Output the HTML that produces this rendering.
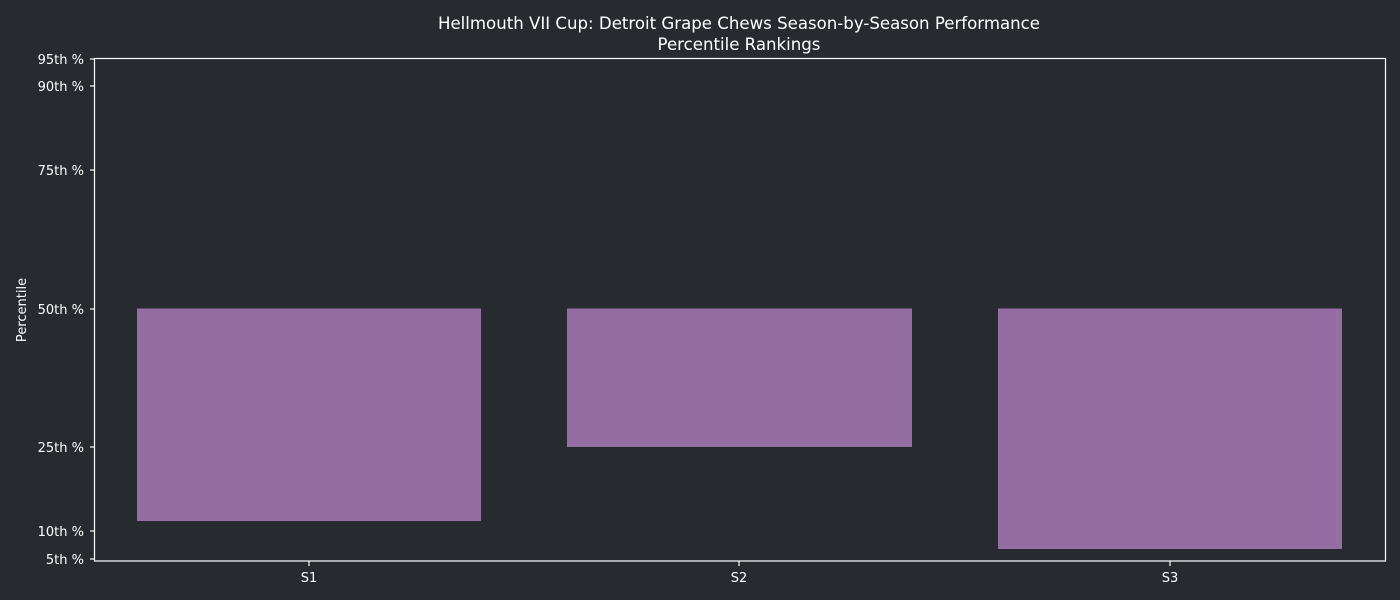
<!DOCTYPE html>
<html><head><style>
html,body{margin:0;padding:0;background:#272b30;}
svg{display:block;font-family:"DejaVu Sans","Liberation Sans",sans-serif;}
</style></head><body>
<svg width="1400" height="600" viewBox="0 0 1400 600">
<rect width="1400" height="600" fill="#272b30"/>
<text x="739" y="29" fill="#fff" font-size="16.6" text-anchor="middle">Hellmouth VII Cup: Detroit Grape Chews Season-by-Season Performance</text>
<text x="739" y="50" fill="#fff" font-size="16.6" text-anchor="middle">Percentile Rankings</text>
<rect x="137" y="308.5" width="344" height="212.5" fill="#946ea3"/>
<rect x="567" y="308.5" width="345" height="138.5" fill="#946ea3"/>
<rect x="998" y="308.5" width="344" height="240.5" fill="#946ea3"/>
<rect x="94.5" y="58.5" width="1291" height="502.5" fill="none" stroke="#fff" stroke-width="1.2"/>
<g stroke="#fff" stroke-width="1.2">
<line x1="90" x2="94" y1="59" y2="59"/><line x1="90" x2="94" y1="86" y2="86"/>
<line x1="90" x2="94" y1="170" y2="170"/><line x1="90" x2="94" y1="309" y2="309"/>
<line x1="90" x2="94" y1="447" y2="447"/><line x1="90" x2="94" y1="531" y2="531"/>
<line x1="90" x2="94" y1="559" y2="559"/>
<line x1="309" x2="309" y1="561" y2="566"/><line x1="739" x2="739" y1="561" y2="566"/><line x1="1170" x2="1170" y1="561" y2="566"/>
</g>
<g fill="#fff" font-size="13" text-anchor="end">
<text x="84" y="64">95th %</text><text x="84" y="91">90th %</text>
<text x="84" y="175">75th %</text><text x="84" y="314">50th %</text>
<text x="84" y="452">25th %</text><text x="84" y="536">10th %</text>
<text x="84" y="564">5th %</text>
</g>
<g fill="#fff" font-size="13" text-anchor="middle">
<text x="309" y="582">S1</text><text x="739" y="582">S2</text><text x="1170" y="582">S3</text>
</g>
<text transform="translate(26,310) rotate(-90)" fill="#fff" font-size="13" text-anchor="middle">Percentile</text>
</svg>
</body></html>
